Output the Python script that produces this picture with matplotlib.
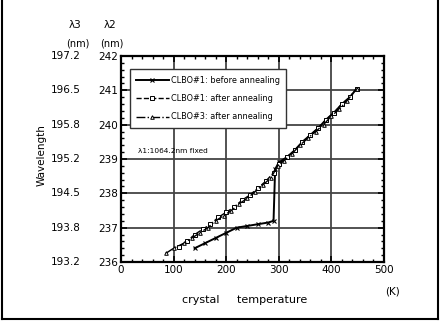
import matplotlib
matplotlib.use("Agg")
import matplotlib.pyplot as plt
from matplotlib.lines import Line2D
from matplotlib.ticker import MultipleLocator
import matplotlib.transforms as mtransforms

# ---- data ----
lam2_ticks = [236, 237, 238, 239, 240, 241, 242]
lam3_labels = ["193.2", "193.8", "194.5", "195.2", "195.8", "196.5", "197.2"]
x_ticks = [0, 100, 200, 300, 400, 500]

before_T = [140, 160, 180, 200, 220, 240, 260, 280, 290, 293, 300, 315, 330, 345, 360, 375, 390, 405, 420, 435, 448]
before_W = [236.4, 236.55, 236.7, 236.85, 237.0, 237.05, 237.1, 237.15, 237.2, 238.7, 238.9, 239.05, 239.25, 239.5, 239.7, 239.9, 240.15, 240.35, 240.6, 240.8, 241.05]

after1_T = [110, 125, 140, 155, 170, 185, 200, 215, 230, 245, 260, 275, 290, 300, 315, 330, 345, 360, 375, 390, 405, 420, 435, 448]
after1_W = [236.45, 236.6, 236.8, 236.95, 237.1, 237.3, 237.45, 237.6, 237.8, 237.95, 238.15, 238.35, 238.6, 238.85, 239.05, 239.25, 239.5, 239.7, 239.9, 240.15, 240.35, 240.6, 240.8, 241.05]

after3_T = [85, 100, 120, 135, 150, 165, 180, 195, 210, 225, 240, 255, 270, 285, 298, 310, 325, 340, 355, 370, 385, 400, 415, 430, 448]
after3_W = [236.25, 236.4, 236.55, 236.7, 236.85, 237.0, 237.2, 237.35, 237.5, 237.7, 237.85, 238.05, 238.25, 238.45, 238.8, 238.95, 239.15, 239.4, 239.6, 239.8, 240.0, 240.25, 240.45, 240.7, 241.05]

labels = ["CLBO#1: before annealing", "CLBO#1: after annealing", "CLBO#3: after annealing"]

fig = plt.figure(figsize=(4.42, 3.25), dpi=100)
ax = fig.add_axes([121/442, 1-262/325, 263/442, 206/325])

ax.plot(before_T, before_W, '-', color='black', lw=1.4, marker='x', ms=2.5, mew=0.8, label=labels[0])
ax.plot(after1_T, after1_W, '--', color='black', lw=1.0, marker='s', ms=2.6, mfc='white', mew=0.7, label=labels[1])
ax.plot(after3_T, after3_W, '-.', color='black', lw=1.0, marker='^', ms=2.6, mfc='white', mew=0.7, label=labels[2])

ax.set_xlim(0, 500)
ax.set_ylim(236, 242)
ax.set_xticks(x_ticks)
ax.set_yticks(lam2_ticks)
ax.xaxis.set_minor_locator(MultipleLocator(20))
ax.yaxis.set_minor_locator(MultipleLocator(0.2))
ax.tick_params(which='both', direction='in', top=True, right=True, labelright=False)
ax.tick_params(which='major', length=4, width=1.2, labelsize=7.5, pad=2)
ax.tick_params(which='minor', length=2.5, width=1.0)
for s in ax.spines.values():
    s.set_linewidth(1.6)
ax.grid(True, which='major', color='#444444', lw=1.3)
ax.set_axisbelow(True)

tr = mtransforms.blended_transform_factory(ax.transAxes, ax.transData)
for v, lab in zip(lam2_ticks, lam3_labels):
    ax.text(-0.155, v, lab, transform=tr, ha='right', va='center', fontsize=7.5)

fig.text(75/442, 1-25/325, "λ3", ha='center', va='center', fontsize=7.5)
fig.text(78/442, 1-43/325, "(nm)", ha='center', va='center', fontsize=7)
fig.text(110/442, 1-25/325, "λ2", ha='center', va='center', fontsize=7.5)
fig.text(112/442, 1-43/325, "(nm)", ha='center', va='center', fontsize=7)

fig.text(42/442, 1-155/325, "Wavelength", rotation=90, ha='center', va='center', fontsize=7.5)
fig.text(245/442, 1-300/325, "crystal     temperature", ha='center', va='center', fontsize=8)
fig.text(393/442, 1-292/325, "(K)", ha='center', va='center', fontsize=7.5)

leg = ax.legend(loc='upper left', bbox_to_anchor=(0.034, 0.935), fontsize=5.9, frameon=True,
                fancybox=False, edgecolor='#333333', framealpha=1, handlelength=4.0, numpoints=1,
                borderpad=0.75, labelspacing=1.15, handletextpad=0.2, borderaxespad=0)
leg.get_frame().set_linewidth(1.0)

ax.text(0.065, 0.54, "λ1:1064.2nm fixed", transform=ax.transAxes, fontsize=5.3, ha='left', va='center')

# border on left, right, bottom
for xs, ys in [([0.004, 0.004], [0.02, 1.0]), ([0.992, 0.992], [0.02, 1.0]), ([0.004, 0.992], [0.02, 0.02])]:
    fig.add_artist(Line2D(xs, ys, transform=fig.transFigure, color='black', lw=1.5))

fig.savefig("out.png", dpi=100)
